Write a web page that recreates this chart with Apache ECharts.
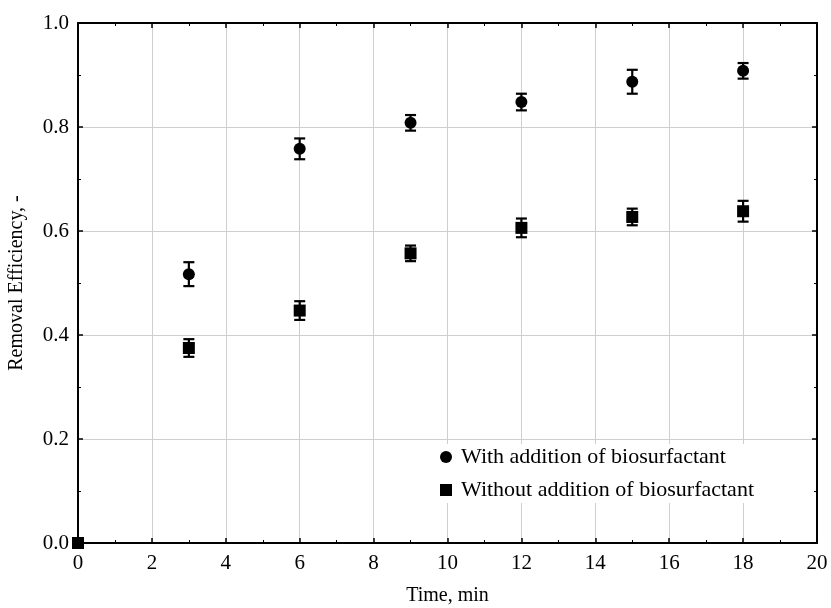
<!DOCTYPE html>
<html>
<head>
<meta charset="utf-8">
<script src="https://cdn.jsdelivr.net/npm/echarts@6/dist/echarts.min.js"></script>
<style>
  html, body { margin: 0; padding: 0; background: #fff; }
  #main { width: 831px; height: 608px; }
</style>
</head>
<body>
<div id="main"></div>
<script>
// time points, min
var timeWith = [3, 6, 9, 12, 15, 18]
var timeWithout = [0, 3, 6, 9, 12, 15, 18]
// removal efficiency
var effWith = [0.517, 0.758, 0.808, 0.848, 0.887, 0.908]
var errWith = [0.023, 0.02, 0.015, 0.016, 0.023, 0.015]
var effWithout = [0, 0.375, 0.447, 0.557, 0.606, 0.627, 0.638]
var errWithout = [0, 0.017, 0.018, 0.015, 0.018, 0.016, 0.02]

var serif = 'Liberation Serif, DejaVu Serif, serif'

function pts(xs, ys) {
  return xs.map(function (x, i) { return [x, ys[i]] })
}
function bars(xs, ys, es) {
  var out = []
  xs.forEach(function (x, i) {
    if (es[i] > 0) out.push([x, ys[i] - es[i], ys[i] + es[i]])
  })
  return out
}

function errorBar(params, api) {
  var x = api.value(0)
  var lo = api.coord([x, api.value(1)])
  var hi = api.coord([x, api.value(2)])
  var half = 5.5
  var st = { stroke: '#000', lineWidth: 2.2 }
  return {
    type: 'group',
    children: [
      { type: 'line', shape: { x1: lo[0], y1: lo[1], x2: hi[0], y2: hi[1] }, style: st },
      { type: 'line', shape: { x1: lo[0] - half, y1: lo[1], x2: lo[0] + half, y2: lo[1] }, style: st },
      { type: 'line', shape: { x1: hi[0] - half, y1: hi[1], x2: hi[0] + half, y2: hi[1] }, style: st }
    ]
  }
}

var chart = echarts.init(document.getElementById('main'))

var axisLine = { show: true, onZero: false, lineStyle: { color: '#000', width: 2 } }
var tick = { show: true, inside: true, length: 5, lineStyle: { color: '#000', width: 1.5 } }
var minor = { show: true, splitNumber: 2, length: 3, lineStyle: { color: '#000', width: 1 } }
var grid = { show: true, lineStyle: { color: '#cfcfcf', width: 1 } }

var option = {
  backgroundColor: '#fff',
  animation: false,
  grid: { left: 78, right: 14, top: 23, bottom: 65, outerBoundsMode: 'none' },
  legend: {
    data: [
      { name: 'With addition of biosurfactant', icon: 'circle' },
      { name: 'Without addition of biosurfactant', icon: 'rect' }
    ],
    orient: 'vertical',
    left: 436,
    top: 444,
    itemWidth: 12,
    itemHeight: 12,
    itemGap: 11,
    padding: [2, 4, 2, 4],
    backgroundColor: '#fff',
    textStyle: { fontFamily: serif, fontSize: 22, color: '#000', padding: [0, 0, 0, 4] }
  },
  xAxis: [
    {
      type: 'value', min: 0, max: 20, interval: 2,
      name: 'Time, min', nameLocation: 'middle', nameGap: 43,
      nameTextStyle: { fontFamily: serif, fontSize: 20, color: '#000' },
      axisLine: axisLine, axisTick: tick, minorTick: minor,
      splitLine: grid,
      axisLabel: { fontFamily: serif, fontSize: 21, color: '#000', margin: 10 }
    },
    {
      type: 'value', min: 0, max: 20, interval: 2, position: 'top',
      axisLine: axisLine, axisTick: tick, minorTick: minor,
      splitLine: { show: false }, axisLabel: { show: false }
    }
  ],
  yAxis: [
    {
      type: 'value', min: 0, max: 1, interval: 0.2,
      name: 'Removal Efficiency, -', nameLocation: 'middle', nameGap: 51,
      nameTextStyle: { fontFamily: serif, fontSize: 20, color: '#000' },
      axisLine: axisLine, axisTick: tick, minorTick: minor,
      splitLine: grid,
      axisLabel: {
        fontFamily: serif, fontSize: 21, color: '#000', margin: 9,
        formatter: function (v) { return v.toFixed(1) }
      }
    },
    {
      type: 'value', min: 0, max: 1, interval: 0.2, position: 'right',
      axisLine: axisLine, axisTick: tick, minorTick: minor,
      splitLine: { show: false }, axisLabel: { show: false }
    }
  ],
  series: [
    {
      type: 'custom', renderItem: errorBar, z: 3,
      data: bars(timeWith, effWith, errWith)
    },
    {
      type: 'custom', renderItem: errorBar, z: 3,
      data: bars(timeWithout, effWithout, errWithout)
    },
    {
      name: 'With addition of biosurfactant', type: 'scatter', z: 4,
      symbol: 'circle', symbolSize: 12,
      itemStyle: { color: '#000', opacity: 1 },
      data: pts(timeWith, effWith)
    },
    {
      name: 'Without addition of biosurfactant', type: 'scatter', z: 4,
      symbol: 'rect', symbolSize: 12,
      itemStyle: { color: '#000', opacity: 1 },
      data: pts(timeWithout, effWithout)
    }
  ]
}
option && chart.setOption(option)
</script>
</body>
</html>
